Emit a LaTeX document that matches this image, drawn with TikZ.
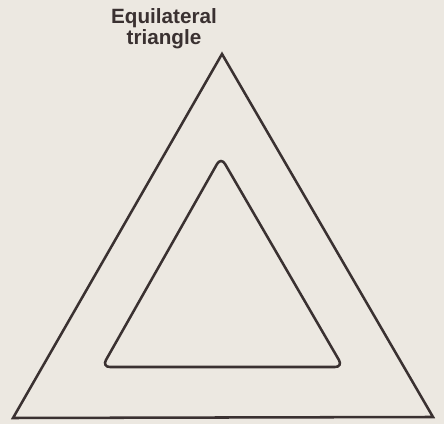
\documentclass[tikz,border=0pt]{standalone}
\usepackage{fontspec}
\setmainfont{Liberation Sans}
\usetikzlibrary{positioning,calc}
\definecolor{paper}{HTML}{ECE8E1}
\definecolor{ink}{HTML}{3A3131}

\begin{document}
\begin{tikzpicture}[x=0.75pt,y=-0.75pt]
\tikzset{edge/.style={draw=ink, line width=1.9pt, line join=miter}}
\fill[paper] (0,0) rectangle (444,424);
\useasboundingbox (0,0) rectangle (444,424);
% outer triangle
\coordinate (outerL) at (13,418);
\coordinate (outerR) at (433,417);
\coordinate (outerT) at (222,54);
\draw[edge] (outerL) -- (outerR) -- (outerT) -- cycle;
% inner triangle
\coordinate (innerL) at (102,367);
\coordinate (innerR) at (343,367);
\coordinate (innerT) at (221,157);
\draw[edge, rounded corners=6pt] (innerL) -- (innerR) -- (innerT) -- cycle;
% label
\node[anchor=south, align=center, font=\bfseries\fontsize{15.5}{16}\selectfont, text=ink, inner sep=0pt] (label) at (164,49) {Equilateral\\triangle};
\end{tikzpicture}
\end{document}
